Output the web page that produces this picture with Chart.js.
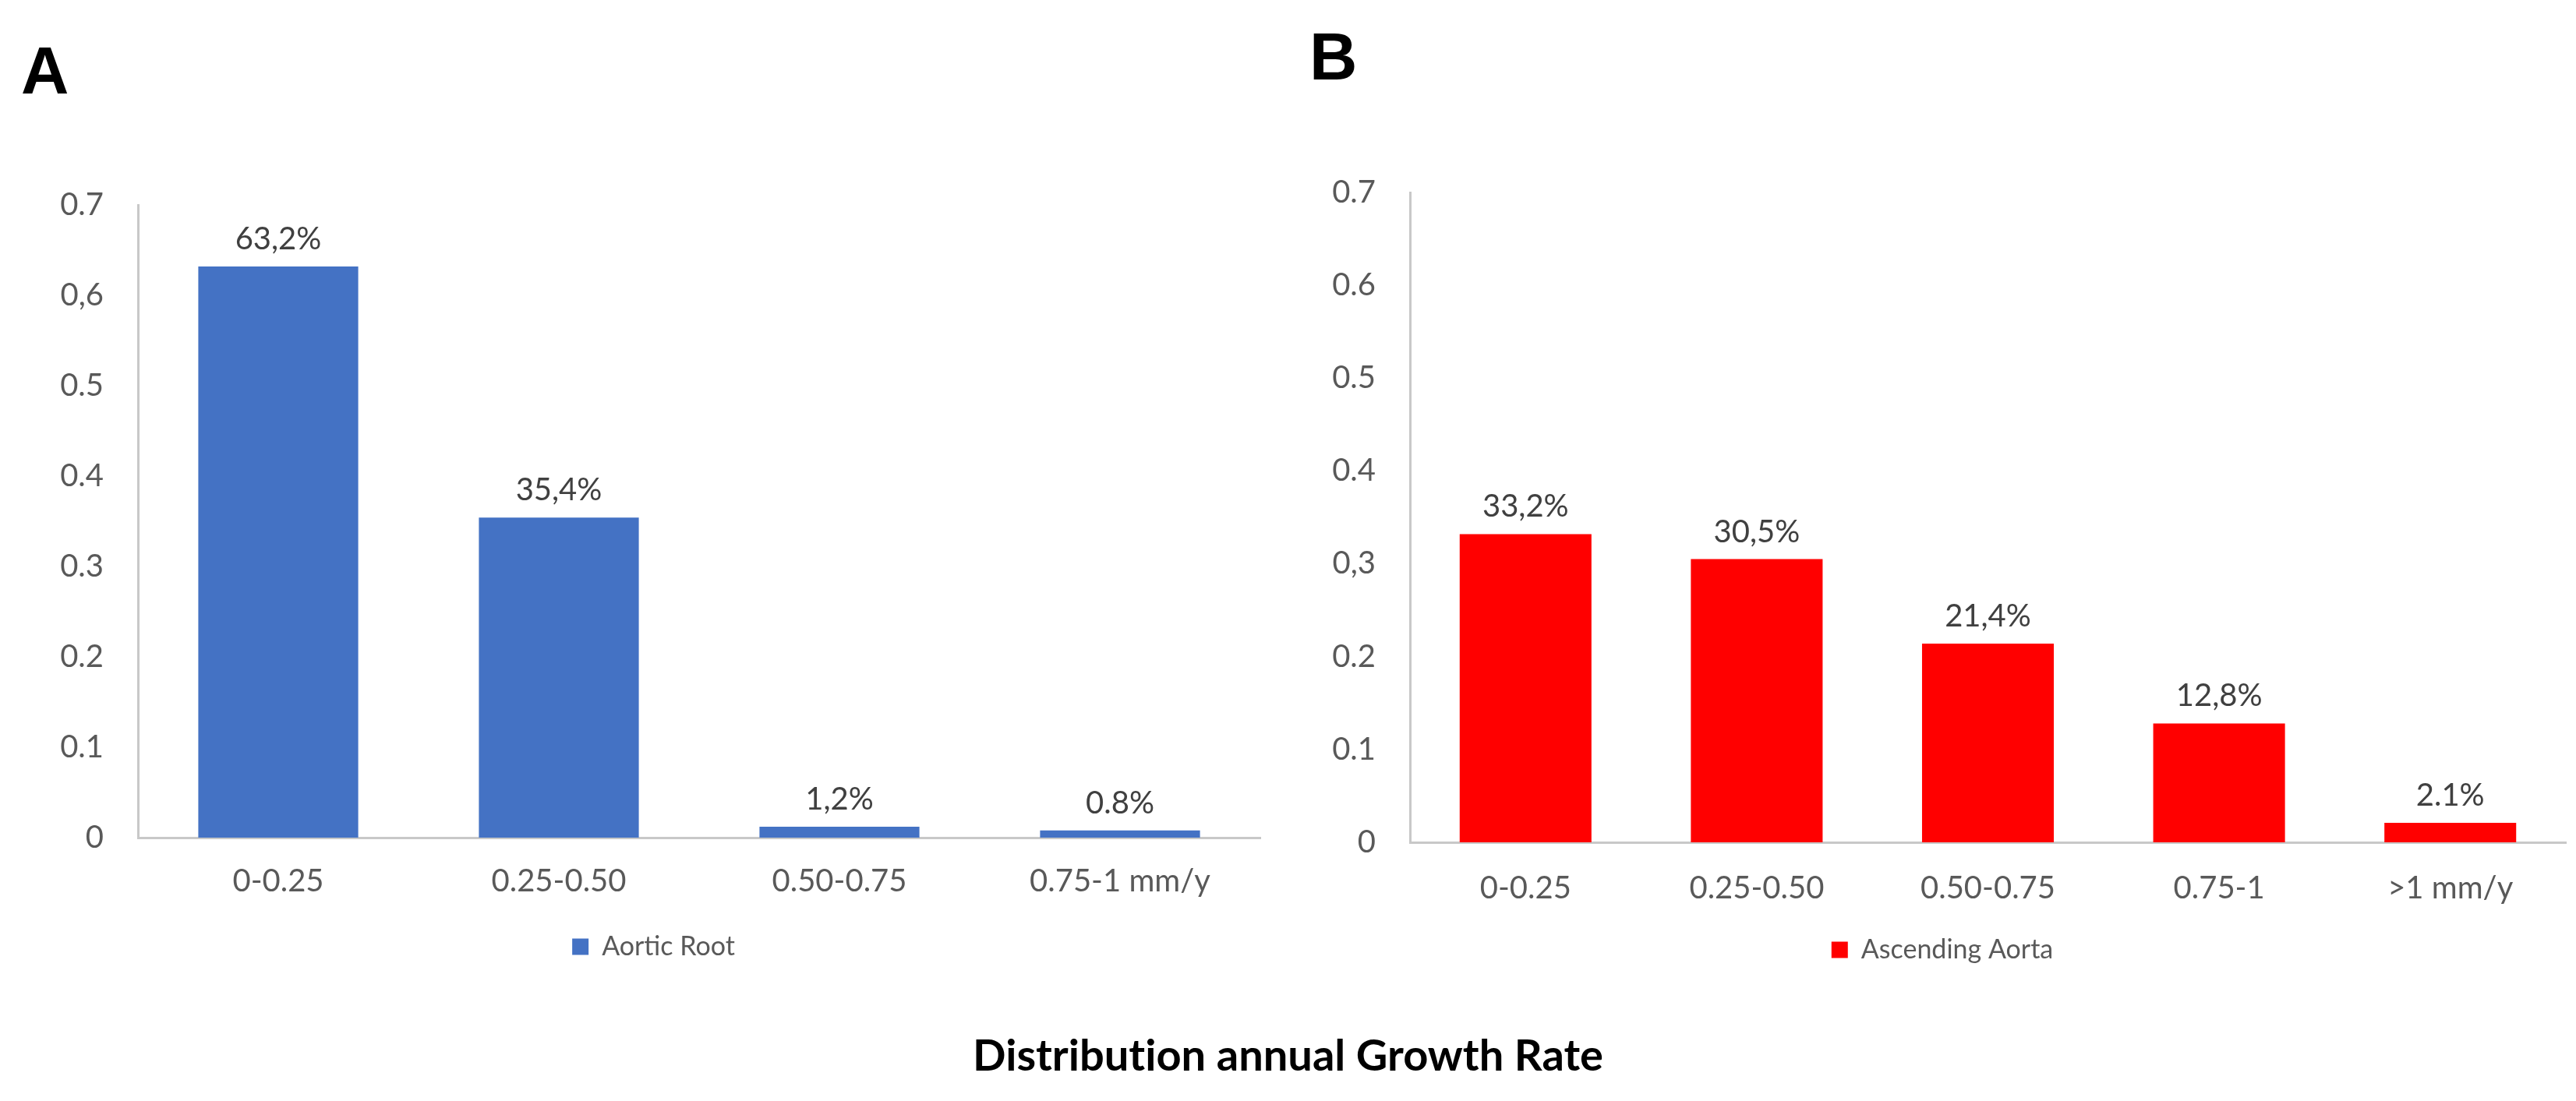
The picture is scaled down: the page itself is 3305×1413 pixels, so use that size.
<!DOCTYPE html>
<html>
<head>
<meta charset="utf-8">
<script src="https://cdn.jsdelivr.net/npm/chart.js@4.4.1/dist/chart.umd.min.js"></script>
<style>
  html, body { margin: 0; padding: 0; background: #fff; }
  body { width: 3305px; height: 1413px; position: relative; overflow: hidden; }
  .box { position: absolute; top: 0; }
  .panel { position: absolute; font-family: "Liberation Sans", Arial, sans-serif; font-weight: bold; font-size: 85px; color: #000; line-height: 1; }
  #title { position: absolute; left: 0; width: 3305px; top: 1319px; text-align: center;
           font-family: Lato, "Open Sans", sans-serif; font-weight: bold; font-size: 56px; color: #000;
           font-variant-ligatures: none; }
</style>
</head>
<body>
<div class="panel" style="left:27px; top:48px;">A</div>
<div class="panel" style="left:1680px; top:30px;">B</div>
<div class="box" style="left:0; width:1632px; height:1242px;"><canvas id="chartA"></canvas></div>
<div class="box" style="left:1632px; width:1673px; height:1246px;"><canvas id="chartB"></canvas></div>
<div id="title">Distribution annual Growth Rate</div>

<script>
// panel A - aortic root
const categoriesA = ['0-0.25', '0.25-0.50', '0.50-0.75', '0.75-1 mm/y'];
const valuesA = [0.632, 0.354, 0.012, 0.008];
const barTextA = ['63,2%', '35,4%', '1,2%', '0.8%'];
const ticksA = ['0', '0.1', '0.2', '0.3', '0.4', '0.5', '0,6', '0.7'];

// panel B - ascending aorta
const categoriesB = ['0-0.25', '0.25-0.50', '0.50-0.75', '0.75-1', '>1 mm/y'];
const valuesB = [0.332, 0.305, 0.214, 0.128, 0.021];
const barTextB = ['33,2%', '30,5%', '21,4%', '12,8%', '2.1%'];
const ticksB = ['0', '0.1', '0.2', '0,3', '0.4', '0.5', '0.6', '0.7'];

const FONT = 'Lato, "Open Sans", sans-serif';
const TEXT = '#595959';
const AXIS = '#c8c8c8';

// labels above bars, placed from the bar elements
const barLabels = {
  id: 'barLabels',
  afterDatasetsDraw(chart, args, opts) {
    const ctx = chart.ctx;
    const meta = chart.getDatasetMeta(0);
    ctx.save();
    ctx.font = '40px ' + FONT;
    ctx.fillStyle = '#404040';
    ctx.textAlign = 'center';
    ctx.textBaseline = 'alphabetic';
    meta.data.forEach((bar, i) => {
      ctx.fillText(opts.labels[i], bar.x, bar.y - 22);
    });
    ctx.restore();
  }
};

function makeChart(id, cats, vals, barText, tickText, name, color, lay) {
  return new Chart(document.getElementById(id), {
    type: 'bar',
    data: {
      labels: cats,
      datasets: [{
        label: name,
        data: vals,
        backgroundColor: color,
        borderWidth: 0,
        barPercentage: 0.57,
        categoryPercentage: 1
      }]
    },
    plugins: [barLabels],
    options: {
      responsive: true,
      maintainAspectRatio: false,
      devicePixelRatio: 1,
      animation: false,
      layout: { padding: { top: lay.top, left: 60, right: lay.right, bottom: 0 } },
      scales: {
        x: {
          grid: { display: false, drawTicks: false, tickLength: 0 },
          border: { display: true, color: AXIS, width: 3 },
          ticks: { color: TEXT, font: { family: FONT, size: 40 }, padding: lay.xpad, maxRotation: 0 },
          afterFit: s => { s.height = lay.xh; }
        },
        y: {
          min: 0,
          max: 0.7,
          grid: { display: false, drawTicks: false, tickLength: 0 },
          border: { display: true, color: AXIS, width: 3 },
          ticks: {
            stepSize: 0.1,
            color: TEXT,
            font: { family: FONT, size: 40 },
            padding: 44,
            callback: (v, i) => tickText[i]
          },
          afterFit: s => { s.width = 117; }
        }
      },
      plugins: {
        legend: {
          position: 'bottom',
          labels: {
            color: TEXT,
            font: { family: FONT, size: 34 },
            boxWidth: 21,
            boxHeight: 21,
            padding: 13
          }
        },
        tooltip: { enabled: false },
        barLabels: { labels: barText }
      }
    }
  });
}

makeChart('chartA', categoriesA, valuesA, barTextA, ticksA, 'Aortic Root', '#4472c4',
  { top: 263, right: 15, xh: 110, xpad: 32 });
makeChart('chartB', categoriesB, valuesB, barTextB, ticksB, 'Ascending Aorta', '#ff0000',
  { top: 247, right: 13, xh: 108, xpad: 35 });
</script>
</body>
</html>
